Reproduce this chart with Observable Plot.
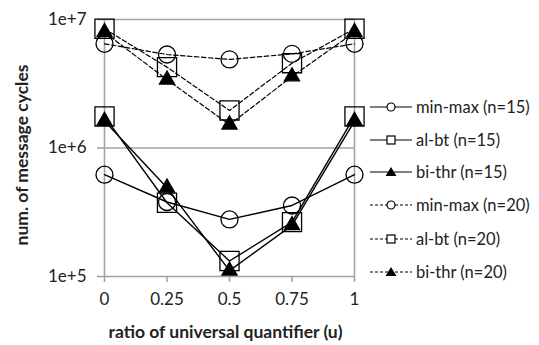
<!DOCTYPE html>
<html>
<head>
<meta charset="utf-8">
<script src="https://cdn.jsdelivr.net/npm/d3@7"></script>
<script src="https://cdn.jsdelivr.net/npm/@observablehq/plot@0.6"></script>
<style>
  html, body { margin: 0; padding: 0; background: #fff; }
  #wrap { position: relative; width: 539px; height: 345px; font-family: Lato, "Open Sans", sans-serif; color: #222; }
  #legend { position: absolute; left: 0; top: 0; }
  .row { position: absolute; left: 369px; height: 20px; display: flex; align-items: center; font-size: 16.5px; white-space: nowrap; }
  .row svg { margin-right: 3px; }
</style>
</head>
<body>
<div id="wrap"><div id="legend"></div></div>
<script>
// ---- data ----
const uValues = [0, 0.25, 0.5, 0.75, 1];
const seriesNames = ["min-max (n=15)", "al-bt (n=15)", "bi-thr (n=15)", "min-max (n=20)", "al-bt (n=20)", "bi-thr (n=20)"];
const minmax15 = [6.2e5, 3.8e5, 2.78e5, 3.57e5, 6.2e5];
const albt15   = [1.76e6, 3.75e5, 1.32e5, 2.65e5, 1.76e6];
const bithr15  = [1.62e6, 4.9e5, 1.11e5, 2.5e5, 1.62e6];
const minmax20 = [6.47e6, 5.34e6, 4.89e6, 5.4e6, 6.47e6];
const albt20   = [8.47e6, 4.26e6, 1.96e6, 4.57e6, 8.47e6];
const bithr20  = [7.96e6, 3.4e6, 1.52e6, 3.6e6, 7.96e6];
const yTicks = [1e5, 1e6, 1e7];
const xTicks = [0, 0.25, 0.5, 0.75, 1];
const xTitle = "ratio of universal quantifier (u)";
const yTitle = "num. of message cycles";

// ---- styles per series ----
const valuesList = [minmax15, albt15, bithr15, minmax20, albt20, bithr20];
const symbols = ["circle", "square", "triangle", "circle", "square", "triangle"];
const dashed = [false, false, false, true, true, true];
const radius = {circle: 8.5, square: 10.8, triangle: 5.6};

const marks = [
  Plot.ruleY(yTicks, {stroke: "#a3a3a3", strokeWidth: 1.6}),
  Plot.ruleX([0, 1], {stroke: "#a3a3a3", strokeWidth: 1.6}),
  Plot.axisY({ticks: yTicks, tickFormat: d => "1e+" + Math.round(Math.log10(d)), tickSize: 7, tickPadding: 11, stroke: "#a3a3a3", strokeWidth: 1.6, fontSize: 17, label: null, fill: "#222"}),
  Plot.axisX({ticks: xTicks, tickFormat: d => String(d), tickSize: 6, tickPadding: 10, stroke: "#a3a3a3", strokeWidth: 1.6, fontSize: 17, label: null, fill: "#222"})
];

seriesNames.forEach((name, k) => {
  const rows = uValues.map((u, i) => ({u, v: valuesList[k][i]}));
  marks.push(Plot.line(rows, {x: "u", y: "v", stroke: "black", strokeWidth: dashed[k] ? 1.2 : 1.4, strokeDasharray: dashed[k] ? "4.5,2.5" : null}));
  marks.push(Plot.dot(rows, {x: "u", y: "v", symbol: symbols[k], r: radius[symbols[k]], stroke: "black", strokeWidth: 1.3, fill: symbols[k] === "triangle" ? "black" : "none"}));
});

marks.push(Plot.text([xTitle], {text: d => d, frameAnchor: "bottom", textAnchor: "middle", dy: 61, dx: -4, fontWeight: "bold", fontSize: 17.5, fill: "#222"}));
marks.push(Plot.text([yTitle], {text: d => d, frameAnchor: "left", textAnchor: "middle", rotate: -90, dx: -82, dy: 7, fontWeight: "bold", fontSize: 17.5, fill: "#222"}));

const chart = Plot.plot({
  width: 539,
  height: 345,
  marginLeft: 104,
  marginRight: 185,
  marginTop: 19,
  marginBottom: 69,
  style: {fontFamily: "Lato, 'Open Sans', sans-serif", fontSize: "17px", color: "#222", background: "#fff", overflow: "visible"},
  x: {domain: [0, 1]},
  y: {type: "log", domain: [1e5, 1e7]},
  marks
});
document.getElementById("wrap").prepend(chart);

// ---- legend ----
const legendY = [107, 140, 172, 205, 239, 272];
const leg = document.getElementById("legend");
seriesNames.forEach((name, k) => {
  const row = document.createElement("div");
  row.className = "row";
  row.style.top = (legendY[k] - 10) + "px";
  const dash = dashed[k] ? ' stroke-dasharray="3,2"' : '';
  let sym;
  if (symbols[k] === "circle") sym = '<circle cx="22" cy="10" r="4" fill="#fff" stroke="black" stroke-width="1.2"/>';
  else if (symbols[k] === "square") sym = '<rect x="18" y="6" width="8" height="8" fill="#fff" stroke="black" stroke-width="1.2"/>';
  else sym = '<path d="M22,5 L27.5,14 L16.5,14 Z" fill="black"/>';
  row.innerHTML = `<svg width="44" height="20"><line x1="1" y1="10" x2="43" y2="10" stroke="black" stroke-width="1.2"${dash}/>${sym}</svg><span>${name}</span>`;
  leg.appendChild(row);
});
</script>
</body>
</html>
